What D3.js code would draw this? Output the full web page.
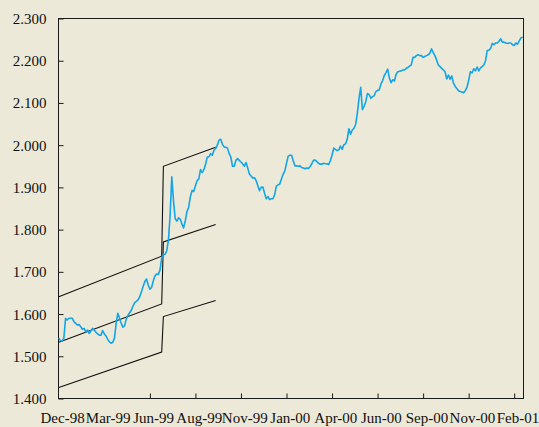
<!DOCTYPE html>
<html>
<head>
<meta charset="utf-8">
<script src="https://cdn.jsdelivr.net/npm/d3@7"></script>
<style>
  html, body { margin: 0; padding: 0; background: #ECE9D8; }
  svg { display: block; }
</style>
</head>
<body>
<svg id="chart" width="539" height="427"></svg>
<script>
// Exchange rate series (one value per sample, tick label every 27 samples)
const tickLabels = ["Dec-98", "Mar-99", "Jun-99", "Aug-99", "Nov-99", "Jan-00",
                    "Apr-00", "Jun-00", "Sep-00", "Nov-00", "Feb-01"];
const samplesPerTick = 27;
const unmarkedTicks = [0, 1];   // label only, no tick mark

const rate = [
  1.543,1.537,1.536,1.543,1.590,1.586,1.590,1.590,1.590,1.582,
  1.578,1.574,1.575,1.570,1.564,1.566,1.558,1.562,1.554,1.560,
  1.566,1.562,1.557,1.553,1.550,1.550,1.561,1.553,1.548,1.540,
  1.534,1.531,1.533,1.543,1.578,1.602,1.590,1.578,1.569,1.572,
  1.588,1.597,1.603,1.609,1.619,1.627,1.630,1.634,1.641,1.653,
  1.665,1.677,1.683,1.669,1.659,1.663,1.678,1.690,1.695,1.694,
  1.704,1.732,1.741,1.741,1.750,1.775,1.834,1.925,1.868,1.826,
  1.820,1.828,1.825,1.813,1.804,1.821,1.843,1.853,1.878,1.893,
  1.890,1.904,1.916,1.920,1.942,1.935,1.942,1.954,1.972,1.972,
  1.980,1.976,1.988,1.992,2.000,2.012,2.014,2.002,1.996,1.995,
  1.993,1.980,1.972,1.950,1.950,1.964,1.968,1.964,1.960,1.956,
  1.950,1.959,1.946,1.932,1.927,1.922,1.923,1.916,1.904,1.892,
  1.900,1.901,1.886,1.873,1.878,1.871,1.873,1.873,1.883,1.903,
  1.906,1.908,1.920,1.931,1.939,1.957,1.974,1.976,1.976,1.963,
  1.951,1.951,1.950,1.951,1.947,1.946,1.944,1.946,1.945,1.949,
  1.956,1.964,1.965,1.961,1.957,1.955,1.955,1.957,1.956,1.956,
  1.954,1.963,1.976,1.993,1.990,1.987,1.989,1.998,1.990,2.001,
  2.003,2.014,2.039,2.026,2.036,2.040,2.049,2.076,2.111,2.137,
  2.084,2.092,2.103,2.122,2.120,2.111,2.115,2.117,2.127,2.130,
  2.131,2.145,2.153,2.165,2.172,2.180,2.159,2.148,2.155,2.152,
  2.168,2.174,2.175,2.176,2.178,2.178,2.182,2.184,2.187,2.190,
  2.208,2.208,2.212,2.214,2.212,2.212,2.208,2.210,2.212,2.214,
  2.218,2.228,2.219,2.212,2.202,2.190,2.186,2.182,2.178,2.174,
  2.157,2.166,2.156,2.164,2.147,2.139,2.134,2.129,2.127,2.126,
  2.124,2.129,2.137,2.153,2.174,2.171,2.181,2.176,2.185,2.176,
  2.183,2.186,2.190,2.200,2.224,2.225,2.229,2.241,2.238,2.242,
  2.242,2.246,2.252,2.244,2.244,2.242,2.241,2.242,2.242,2.238,
  2.236,2.242,2.239,2.247,2.254,2.256
];

// Band edges and central parity: [sample, value]
const upperBand  = [[0, 1.641], [61, 1.737], [62, 1.950], [93, 1.995]];
const centralRate = [[0, 1.533], [61, 1.624], [62, 1.771], [93, 1.812]];
const lowerBand  = [[0, 1.426], [61, 1.510], [62, 1.594], [93, 1.632]];

const yTicks = [1.4, 1.5, 1.6, 1.7, 1.8, 1.9, 2.0, 2.1, 2.2, 2.3];
const yDomain = [1.4, 2.3];

// Layout
const plot = { left: 58.5, right: 523.5, top: 18.5, bottom: 398.5 };
const xEnd = 275.4;

const svg = d3.select("#chart");
const font = "'Liberation Serif', 'Times New Roman', serif";

const x = d3.scaleLinear().domain([0, xEnd]).range([plot.left + 0.3, plot.right - 0.2]);
const y = d3.scaleLinear().domain(yDomain).range([plot.bottom, plot.top]);

// Plot frame
svg.append("rect")
  .attr("x", plot.left).attr("y", plot.top)
  .attr("width", plot.right - plot.left).attr("height", plot.bottom - plot.top)
  .attr("fill", "none").attr("stroke", "#1a1a1a").attr("stroke-width", 1);

// Y axis
const yAxis = svg.append("g")
  .attr("transform", `translate(${plot.left},0)`)
  .call(d3.axisLeft(y).tickValues(yTicks).tickFormat(d3.format(".3f"))
        .tickSize(-5).tickPadding(12));
yAxis.select(".domain").remove();
yAxis.selectAll(".tick line").attr("stroke", "#1a1a1a");
yAxis.selectAll(".tick text")
  .attr("font-family", font).attr("font-size", 15).attr("fill", "#111")
  .attr("dy", "0.33em");

// X axis
const tickIdx = tickLabels.map((_, i) => i * samplesPerTick);
const xAxis = svg.append("g")
  .attr("transform", `translate(0,${plot.bottom})`)
  .call(d3.axisBottom(x).tickValues(tickIdx)
        .tickFormat((d, i) => tickLabels[i]).tickSize(-5));
xAxis.select(".domain").remove();
xAxis.selectAll(".tick line")
  .attr("stroke", "#1a1a1a")
  .attr("display", (d, i) => unmarkedTicks.includes(i) ? "none" : null);
xAxis.selectAll(".tick text")
  .attr("font-family", font).attr("font-size", 15).attr("fill", "#111")
  .attr("y", 24.8).attr("dy", 0).attr("dx", 3.3);

// Band lines
const bandLine = d3.line().x(d => x(d[0])).y(d => y(d[1]));
[upperBand, centralRate, lowerBand].forEach(band => {
  svg.append("path")
    .datum(band)
    .attr("d", bandLine)
    .attr("fill", "none")
    .attr("stroke", "#111")
    .attr("stroke-width", 1.1);
});

// Rate line
const rateLine = d3.line().x((d, i) => x(i)).y(d => y(d));
svg.append("path")
  .datum(rate)
  .attr("d", rateLine)
  .attr("fill", "none")
  .attr("stroke", "#12a5e8")
  .attr("stroke-width", 1.6)
  .attr("stroke-linejoin", "round");
</script>
</body>
</html>
